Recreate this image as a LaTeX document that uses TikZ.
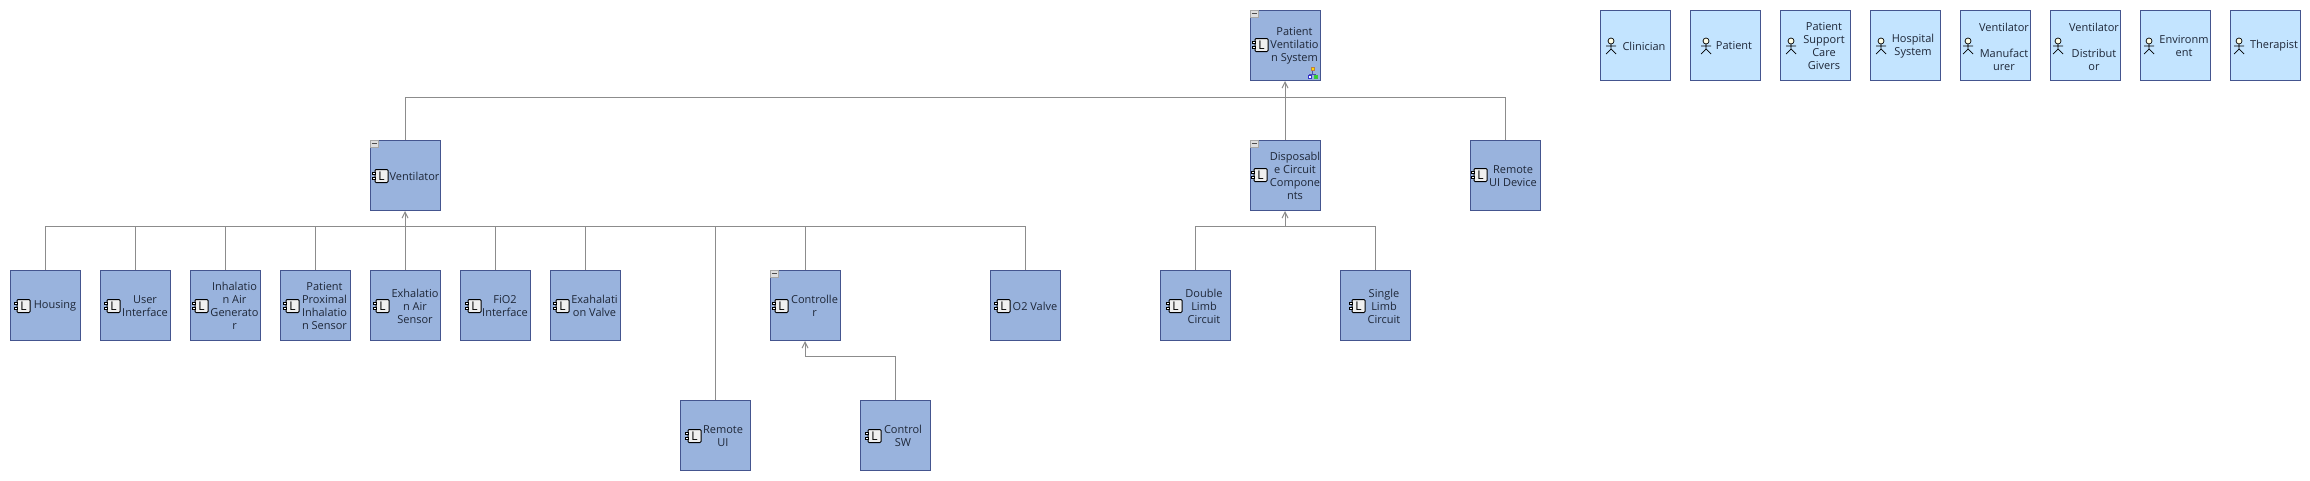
\documentclass[tikz,border=0pt]{standalone}
\usepackage{fontspec}
\setmainfont{Open Sans}
\usetikzlibrary{arrows.meta}
\definecolor{compfill}{HTML}{99B3DD}
\definecolor{actorfill}{HTML}{C3E4FF}
\definecolor{boxline}{HTML}{44558F}
\definecolor{linkgray}{HTML}{8C8C8C}
\definecolor{labelink}{HTML}{1E2738}
\tikzset{
compbox/.style={draw=boxline,fill=compfill,line width=1pt,minimum size=70pt,inner sep=0pt,outer sep=0pt},
actorbox/.style={compbox,fill=actorfill},
lbl/.style={align=center,inner sep=0pt,text=labelink,font=\fontsize{11}{13}\selectfont},
genline/.style={draw=linkgray,line width=1pt},
genarrow/.style={genline,-{Straight Barb[length=6pt,width=6pt,line width=1pt]},shorten >=1pt},
compicon/.pic={
\draw[black,line width=1pt,fill=gray!12,rounded corners=1pt] (-5,-6.5) rectangle (8,6.5);
\draw[black,line width=0.8pt,fill=white] (-8,-3.5) rectangle (-4.5,-1.5) (-8,1) rectangle (-4.5,3);
\node[inner sep=0pt,font=\fontsize{12}{12}\selectfont] at (1.5,0) {L};
},
actoricon/.pic={
\draw[black,line width=0.7pt,fill=white!90!yellow] (0,-5) circle (3);
\draw[black,line width=0.7pt] (0,-2)--(0,3) (-5,0)--(5,0) (-5,8)--(0,3)--(5,8);
},
collapseicon/.pic={
\draw[gray!70,line width=0.7pt,fill=gray!25] (0,0) rectangle (8,7);
\draw[black!70,line width=1pt] (1.5,3.5)--(6.5,3.5);
},
treeicon/.pic={
\draw[blue!40!gray,line width=0.4pt] (0,0)--(0,4) (-3,6)--(-3,4)--(3,4)--(3,6);
\draw[brown,line width=0.4pt,fill=yellow!80!orange] (-1.6,-2.4) rectangle (1.6,0.6);
\draw[blue!60!gray,line width=0.4pt,fill=white] (-4.6,5.5) rectangle (-1.4,8.5);
\draw[green!50!gray,line width=0.4pt,fill=green!70!gray] (1.4,5.5) rectangle (4.6,8.5);
}
}
\begin{document}
\begin{tikzpicture}[x=1pt,y=-1pt]
\useasboundingbox[fill=white] (0,0) rectangle (2310,480);
\coordinate (sysbus) at (1285,97);
\coordinate (ventbus) at (405,226);
\coordinate (circbus) at (1285,226);
\coordinate (ctrlbus) at (805,356);

\draw(1285,45)node[compbox](ptsystem){} (1294.5,46)node[lbl](ptsystemtxt){Patient\\Ventilatio\\n System} (1260,45)pic{compicon};
\draw(405,175)node[compbox](ventilator){} (414.5,176)node[lbl](ventilatortxt){Ventilator} (380,176)pic{compicon};
\draw(1285,175)node[compbox](disposable){} (1295,176)node[lbl](disposabletxt){Disposabl\\e Circuit\\Compone\\nts} (1259,175)pic{compicon};
\draw(1505,175)node[compbox](remotedev){} (1513,176)node[lbl](remotedevtxt){Remote\\UI Device} (1479,175)pic{compicon};

\draw(45,305)node[compbox](housing){} (55,306)node[lbl](housingtxt){Housing} (22,306)pic{compicon};
\draw(135,305)node[compbox](userif){} (145,306)node[lbl](useriftxt){User\\Interface} (112,306)pic{compicon};
\draw(225,305)node[compbox](inhalegen){} (234.5,306)node[lbl](inhalegentxt){Inhalatio\\n Air\\Generato\\r} (200,306)pic{compicon};
\draw(315,305)node[compbox](proximal){} (324.5,306)node[lbl](proximaltxt){Patient\\Proximal\\Inhalatio\\n Sensor} (291,306)pic{compicon};
\draw(405,305)node[compbox](exhaleair){} (415,306)node[lbl](exhaleairtxt){Exhalatio\\n Air\\Sensor} (381,306)pic{compicon};
\draw(495,305)node[compbox](fiotwo){} (505,306)node[lbl](fiotwotxt){FiO2\\Interface} (473,306)pic{compicon};
\draw(585,305)node[compbox](exhalevalve){} (594.5,306)node[lbl](exhalevalvetxt){Exahalati\\on Valve} (561,306)pic{compicon};
\draw(805,305)node[compbox](controller){} (814.5,306)node[lbl](controllertxt){Controlle\\r} (780,306)pic{compicon};
\draw(1025,305)node[compbox](otwovalve){} (1035,306)node[lbl](otwovalvetxt){O2 Valve} (1002,306)pic{compicon};
\draw(715,435)node[compbox](remoteui){} (723,436)node[lbl](remoteuitxt){Remote\\UI} (693,436)pic{compicon};
\draw(895,435)node[compbox](controlsw){} (903,436)node[lbl](controlswtxt){Control\\SW} (873,436)pic{compicon};
\draw(1195,305)node[compbox](doublelimb){} (1204,306)node[lbl](doublelimbtxt){Double\\Limb\\Circuit} (1174,306)pic{compicon};
\draw(1375,305)node[compbox](singlelimb){} (1384,306)node[lbl](singlelimbtxt){Single\\Limb\\Circuit} (1357,306)pic{compicon};

\draw(1635,45)node[actorbox](clinician){} (1644,46)node[lbl](clinicantxt){Clinician} (1611,46)pic{actoricon};
\draw(1725,45)node[actorbox](patient){} (1734,46)node[lbl](patienttxt){Patient} (1706,46)pic{actoricon};
\draw(1815,45)node[actorbox](caregivers){} (1824,46)node[lbl](caregiverstxt){Patient\\Support\\Care\\Givers} (1791,46)pic{actoricon};
\draw(1905,45)node[actorbox](hospital){} (1913,46)node[lbl](hospitaltxt){Hospital\\System} (1881,46)pic{actoricon};
\draw(1995,45)node[actorbox](manufacturer){} (2004,46.5)node[lbl](manufacturertxt){Ventilator\\[13pt]Manufact\\urer} (1968,46)pic{actoricon};
\draw(2085,45)node[actorbox](distributor){} (2094,46.5)node[lbl](distributortxt){Ventilator\\[13pt]Distribut\\or} (2058,46)pic{actoricon};
\draw(2175,45)node[actorbox](environment){} (2184,46)node[lbl](environmenttxt){Environm\\ent} (2149,46)pic{actoricon};
\draw(2265,45)node[actorbox](therapist){} (2274,46)node[lbl](therapisttxt){Therapist} (2239,46)pic{actoricon};

\draw(ptsystem.north west)pic{collapseicon} (ventilator.north west)pic{collapseicon} (disposable.north west)pic{collapseicon} (controller.north west)pic{collapseicon};
\draw(1312.5,70)pic{treeicon};

\draw[genline] (ventilator.north) |- (sysbus) (remotedev.north) |- (sysbus);
\draw[genarrow] (disposable.north) -- (ptsystem.south);
\foreach \child in {housing,userif,inhalegen,proximal,fiotwo,exhalevalve,remoteui,controller,otwovalve}
{\draw[genline] (\child.north) |- (ventbus);}
\draw[genarrow] (exhaleair.north) -- (ventilator.south);
\draw[genline] (doublelimb.north) |- (circbus) (singlelimb.north) |- (circbus);
\draw[genarrow] (circbus) -- (disposable.south);
\draw[genline] (controlsw.north) |- (ctrlbus);
\draw[genarrow] (ctrlbus) -- (controller.south);
\end{tikzpicture}
\end{document}
